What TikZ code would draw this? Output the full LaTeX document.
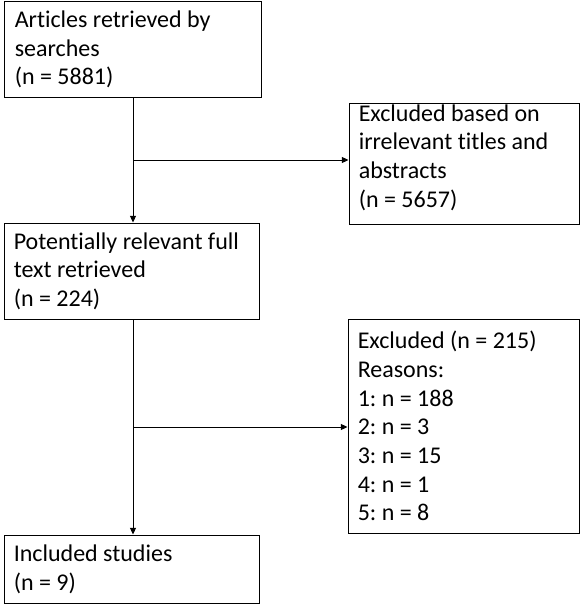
\documentclass[tikz,border=0pt]{standalone}
\usepackage{fontspec}
\setmainfont{Carlito}[Ligatures=NoCommon]
\usetikzlibrary{arrows.meta}
\begin{document}
\frenchspacing
\begin{tikzpicture}[x=0.75pt,y=-0.75pt,
  frame/.style={draw=black,line width=0.75pt,rectangle,inner sep=0pt},
  txt/.style={inner sep=0pt,align=left,anchor=west,xshift=7.5pt,font=\fontsize{18}{21.5}\selectfont},
  conn/.style={draw=black,line width=0.75pt,-{Triangle[length=5pt,width=4.5pt]}}]
\useasboundingbox (0,0) rectangle (584,604);
\node[frame,minimum width=192.75pt,minimum height=72pt] (b1) at (132.5,49.5) {};
\node[txt,xshift=0.75pt] (t1) at (b1.west) {Articles retrieved by\\searches\\(n = 5881)};
\node[frame,minimum width=172.5pt,minimum height=90.75pt] (b2) at (464,163.5) {};
\node[txt,yshift=4.5pt] (t2) at (b2.west) {Excluded based on\\irrelevant titles and\\abstracts\\(n = 5657)};
\node[frame,minimum width=191.25pt,minimum height=72pt] (b3) at (131.5,271) {};
\node[txt] (t3) at (b3.west) {Potentially relevant full\\text retrieved\\(n = 224)};
\node[frame,minimum width=173.25pt,minimum height=160.5pt] (b4) at (463.5,426) {};
\node[txt] (t4) at (b4.west) {Excluded (n = 215)\\Reasons:\\1: n = 188\\2: n = 3\\3: n = 15\\4: n = 1\\5: n = 8};
\node[frame,minimum width=191.25pt,minimum height=51pt] (b5) at (131.5,569) {};
\node[txt] (t5) at (b5.west) {Included studies\\(n = 9)};
\coordinate (j1) at (133,160);
\coordinate (j2) at (133,427);
\draw[conn] (b1.south -| j1) -- (j1 |- b3.north);
\draw[conn] (j1) -- (j1 -| b2.west);
\draw[conn] (b3.south -| j2) -- (j2 |- b5.north);
\draw[conn] (j2) -- (j2 -| b4.west);
\end{tikzpicture}
\end{document}
